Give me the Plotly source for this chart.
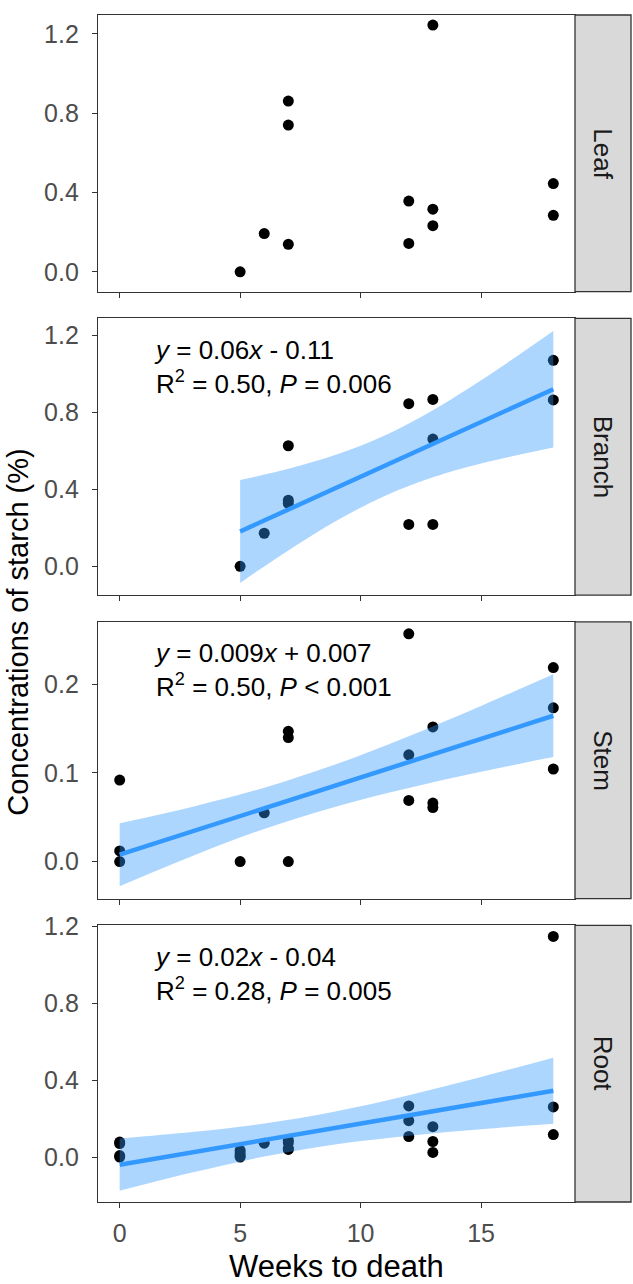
import plotly.graph_objects as go

# ---------------- data ----------------
panels = ["Leaf", "Branch", "Stem", "Root"]

leaf_x = [5, 6, 7, 7, 7, 12, 12, 13, 13, 13, 18, 18]
leaf_y = [0.0, 0.193, 0.861, 0.740, 0.139, 0.357, 0.143, 1.244, 0.316, 0.233, 0.445, 0.285]

branch_x = [5, 6, 7, 7, 7, 12, 12, 13, 13, 13, 18, 18]
branch_y = [0.0, 0.172, 0.627, 0.344, 0.327, 0.846, 0.218, 0.868, 0.662, 0.218, 1.071, 0.865]

stem_x = [0, 0, 0, 5, 6, 7, 7, 7, 12, 12, 12, 13, 13, 13, 18, 18, 18]
stem_y = [0.092, 0.012, 0.0, 0.0, 0.055, 0.147, 0.140, 0.0, 0.257, 0.1205, 0.069,
          0.152, 0.066, 0.061, 0.219, 0.1735, 0.1045]

root_x = [0, 0, 0, 0, 5, 5, 5, 5, 6, 7, 7, 7, 7, 12, 12, 12, 13, 13, 13, 18, 18, 18]
root_y = [0.078, 0.070, 0.008, 0.0, 0.035, 0.020, 0.005, 0.0, 0.072, 0.088, 0.075,
          0.045, 0.040, 0.266, 0.189, 0.107, 0.158, 0.081, 0.024, 1.147, 0.261, 0.117]

# fitted lines and confidence bands
branch_fit_x = [5, 18]
branch_fit_y = [0.1815, 0.921]
branch_band_x = [5, 7, 9, 11, 13, 15, 18]
branch_band_lo = [-0.086, 0.083, 0.237, 0.366, 0.463, 0.535, 0.618]
branch_band_hi = [0.449, 0.507, 0.581, 0.680, 0.811, 0.967, 1.224]

stem_fit_x = [0, 18]
stem_fit_y = [0.0078, 0.1646]
stem_band_x = [0, 3, 6, 9, 12, 15, 18]
stem_band_lo = [-0.0277, 0.0061, 0.0368, 0.0623, 0.0831, 0.1013, 0.1179]
stem_band_hi = [0.0433, 0.0617, 0.0834, 0.1101, 0.1415, 0.1757, 0.2113]

root_fit_x = [0, 18]
root_fit_y = [-0.0395, 0.3448]
root_band_x = [0, 3, 6, 9, 12, 15, 18]
root_band_lo = [-0.1754, -0.0806, 0.0029, 0.0670, 0.1115, 0.1449, 0.1728]
root_band_hi = [0.0964, 0.1298, 0.1743, 0.2384, 0.3219, 0.4167, 0.5168]

eq_text = [
    None,
    "<i>y</i> = 0.06<i>x</i> - 0.11<br>R<sup>2</sup> = 0.50, <i>P</i> = 0.006",
    "<i>y</i> = 0.009<i>x</i> + 0.007<br>R<sup>2</sup> = 0.50, <i>P</i> < 0.001",
    "<i>y</i> = 0.02<i>x</i> - 0.04<br>R<sup>2</sup> = 0.28, <i>P</i> = 0.005",
]

y_ranges = [[-0.100, 1.295], [-0.1496, 1.289], [-0.0417, 0.2705], [-0.2336, 1.205]]
y_ticks = [[0, 0.4, 0.8, 1.2], [0, 0.4, 0.8, 1.2], [0, 0.1, 0.2], [0, 0.4, 0.8, 1.2]]
x_ticks = [0, 5, 10, 15]
x_range = [-0.9, 18.9]

# ---------------- layout geometry ----------------
W, H = 633, 1284
ML, MR, MT, MB = 98, 2, 5, 82
pw = W - ML - MR
ph = H - MT - MB
x_dom_end = (575 - ML) / pw
panel_h = 279 / ph
gap = 27 / ph

FONT = "Liberation Sans, Arial, sans-serif"
LINE_COL = "#333333"
FIT_COL = "#3399FF"
BAND_COL = "rgba(51,153,255,0.40)"

points = [(leaf_x, leaf_y), (branch_x, branch_y), (stem_x, stem_y), (root_x, root_y)]
fits = [None,
        (branch_fit_x, branch_fit_y, branch_band_x, branch_band_lo, branch_band_hi),
        (stem_fit_x, stem_fit_y, stem_band_x, stem_band_lo, stem_band_hi),
        (root_fit_x, root_fit_y, root_band_x, root_band_lo, root_band_hi)]

fig = go.Figure()
shapes = []
annotations = []

for i, name in enumerate(panels):
    k = i + 1
    xa = "x" if k == 1 else f"x{k}"
    ya = "y" if k == 1 else f"y{k}"
    top = 1 - i * (panel_h + gap)
    bot = top - panel_h

    px, py = points[i]
    fig.add_trace(go.Scatter(x=px, y=py, mode="markers", xaxis=xa, yaxis=ya,
                             marker=dict(color="black", size=11, line=dict(width=0)),
                             showlegend=False, hoverinfo="skip"))
    if fits[i] is not None:
        fx, fy, bx, blo, bhi = fits[i]
        fig.add_trace(go.Scatter(x=bx, y=blo, mode="lines", xaxis=xa, yaxis=ya,
                                 line=dict(width=0, shape="spline"),
                                 showlegend=False, hoverinfo="skip"))
        fig.add_trace(go.Scatter(x=bx, y=bhi, mode="lines", xaxis=xa, yaxis=ya,
                                 line=dict(width=0, shape="spline"), fill="tonexty",
                                 fillcolor=BAND_COL, showlegend=False, hoverinfo="skip"))
        fig.add_trace(go.Scatter(x=fx, y=fy, mode="lines", xaxis=xa, yaxis=ya,
                                 line=dict(color=FIT_COL, width=4.5),
                                 showlegend=False, hoverinfo="skip"))
        annotations.append(dict(text=eq_text[i], xref=xa, x=1.35, yref=f"{ya} domain",
                                y=0.825, xanchor="left", yanchor="middle", align="left",
                                showarrow=False,
                                font=dict(family=FONT, size=26, color="black")))

    axis_common = dict(showline=True, linecolor=LINE_COL, linewidth=1.3, mirror=True,
                       showgrid=False, zeroline=False, ticks="outside", ticklen=5,
                       tickwidth=1.3, tickcolor=LINE_COL,
                       tickfont=dict(family=FONT, size=25, color="#4D4D4D"))
    fig.layout[f"xaxis{'' if k == 1 else k}"] = dict(
        axis_common, domain=[0, x_dom_end], range=x_range, anchor=ya,
        tickvals=x_ticks, ticktext=[str(v) for v in x_ticks],
        showticklabels=(i == 3), ticklabelstandoff=4)
    fig.layout[f"yaxis{'' if k == 1 else k}"] = dict(
        axis_common, domain=[bot, top], range=y_ranges[i], anchor=xa,
        tickvals=y_ticks[i], ticktext=[f"{v:.1f}" for v in y_ticks[i]],
        ticklabelstandoff=8)

    # strip
    shapes.append(dict(type="rect", xref="paper", yref="paper", x0=x_dom_end, x1=1.0,
                       y0=bot, y1=top, fillcolor="#D9D9D9",
                       line=dict(color=LINE_COL, width=1.3), layer="above"))
    annotations.append(dict(text=name, xref="paper", yref="paper",
                            x=(x_dom_end + 1.0) / 2, y=(top + bot) / 2,
                            xanchor="center", yanchor="middle",
                            textangle=90, showarrow=False,
                            font=dict(family=FONT, size=26, color="#1A1A1A")))

annotations.append(dict(text="Concentrations of starch (%)", xref="paper", yref="paper",
                        x=(18 - ML) / pw, y=(1202 - 628) / ph, textangle=-90,
                        showarrow=False, xanchor="center", yanchor="middle",
                        font=dict(family=FONT, size=29, color="black")))
annotations.append(dict(text="Weeks to death", xref="paper", yref="paper",
                        x=x_dom_end / 2, y=(1202 - 1267) / ph, showarrow=False,
                        xanchor="center", yanchor="middle",
                        font=dict(family=FONT, size=31, color="black")))

fig.update_layout(width=W, height=H, margin=dict(l=ML, r=MR, t=MT, b=MB),
                  paper_bgcolor="white", plot_bgcolor="white",
                  shapes=shapes, annotations=annotations, showlegend=False)

fig.write_html("out.html", config={"displayModeBar": False},
               post_script="document.body.style.margin='0px';"
                           "document.body.style.padding='0px';"
                           "document.body.style.overflow='hidden';"
                           "document.documentElement.style.overflow='hidden';")
